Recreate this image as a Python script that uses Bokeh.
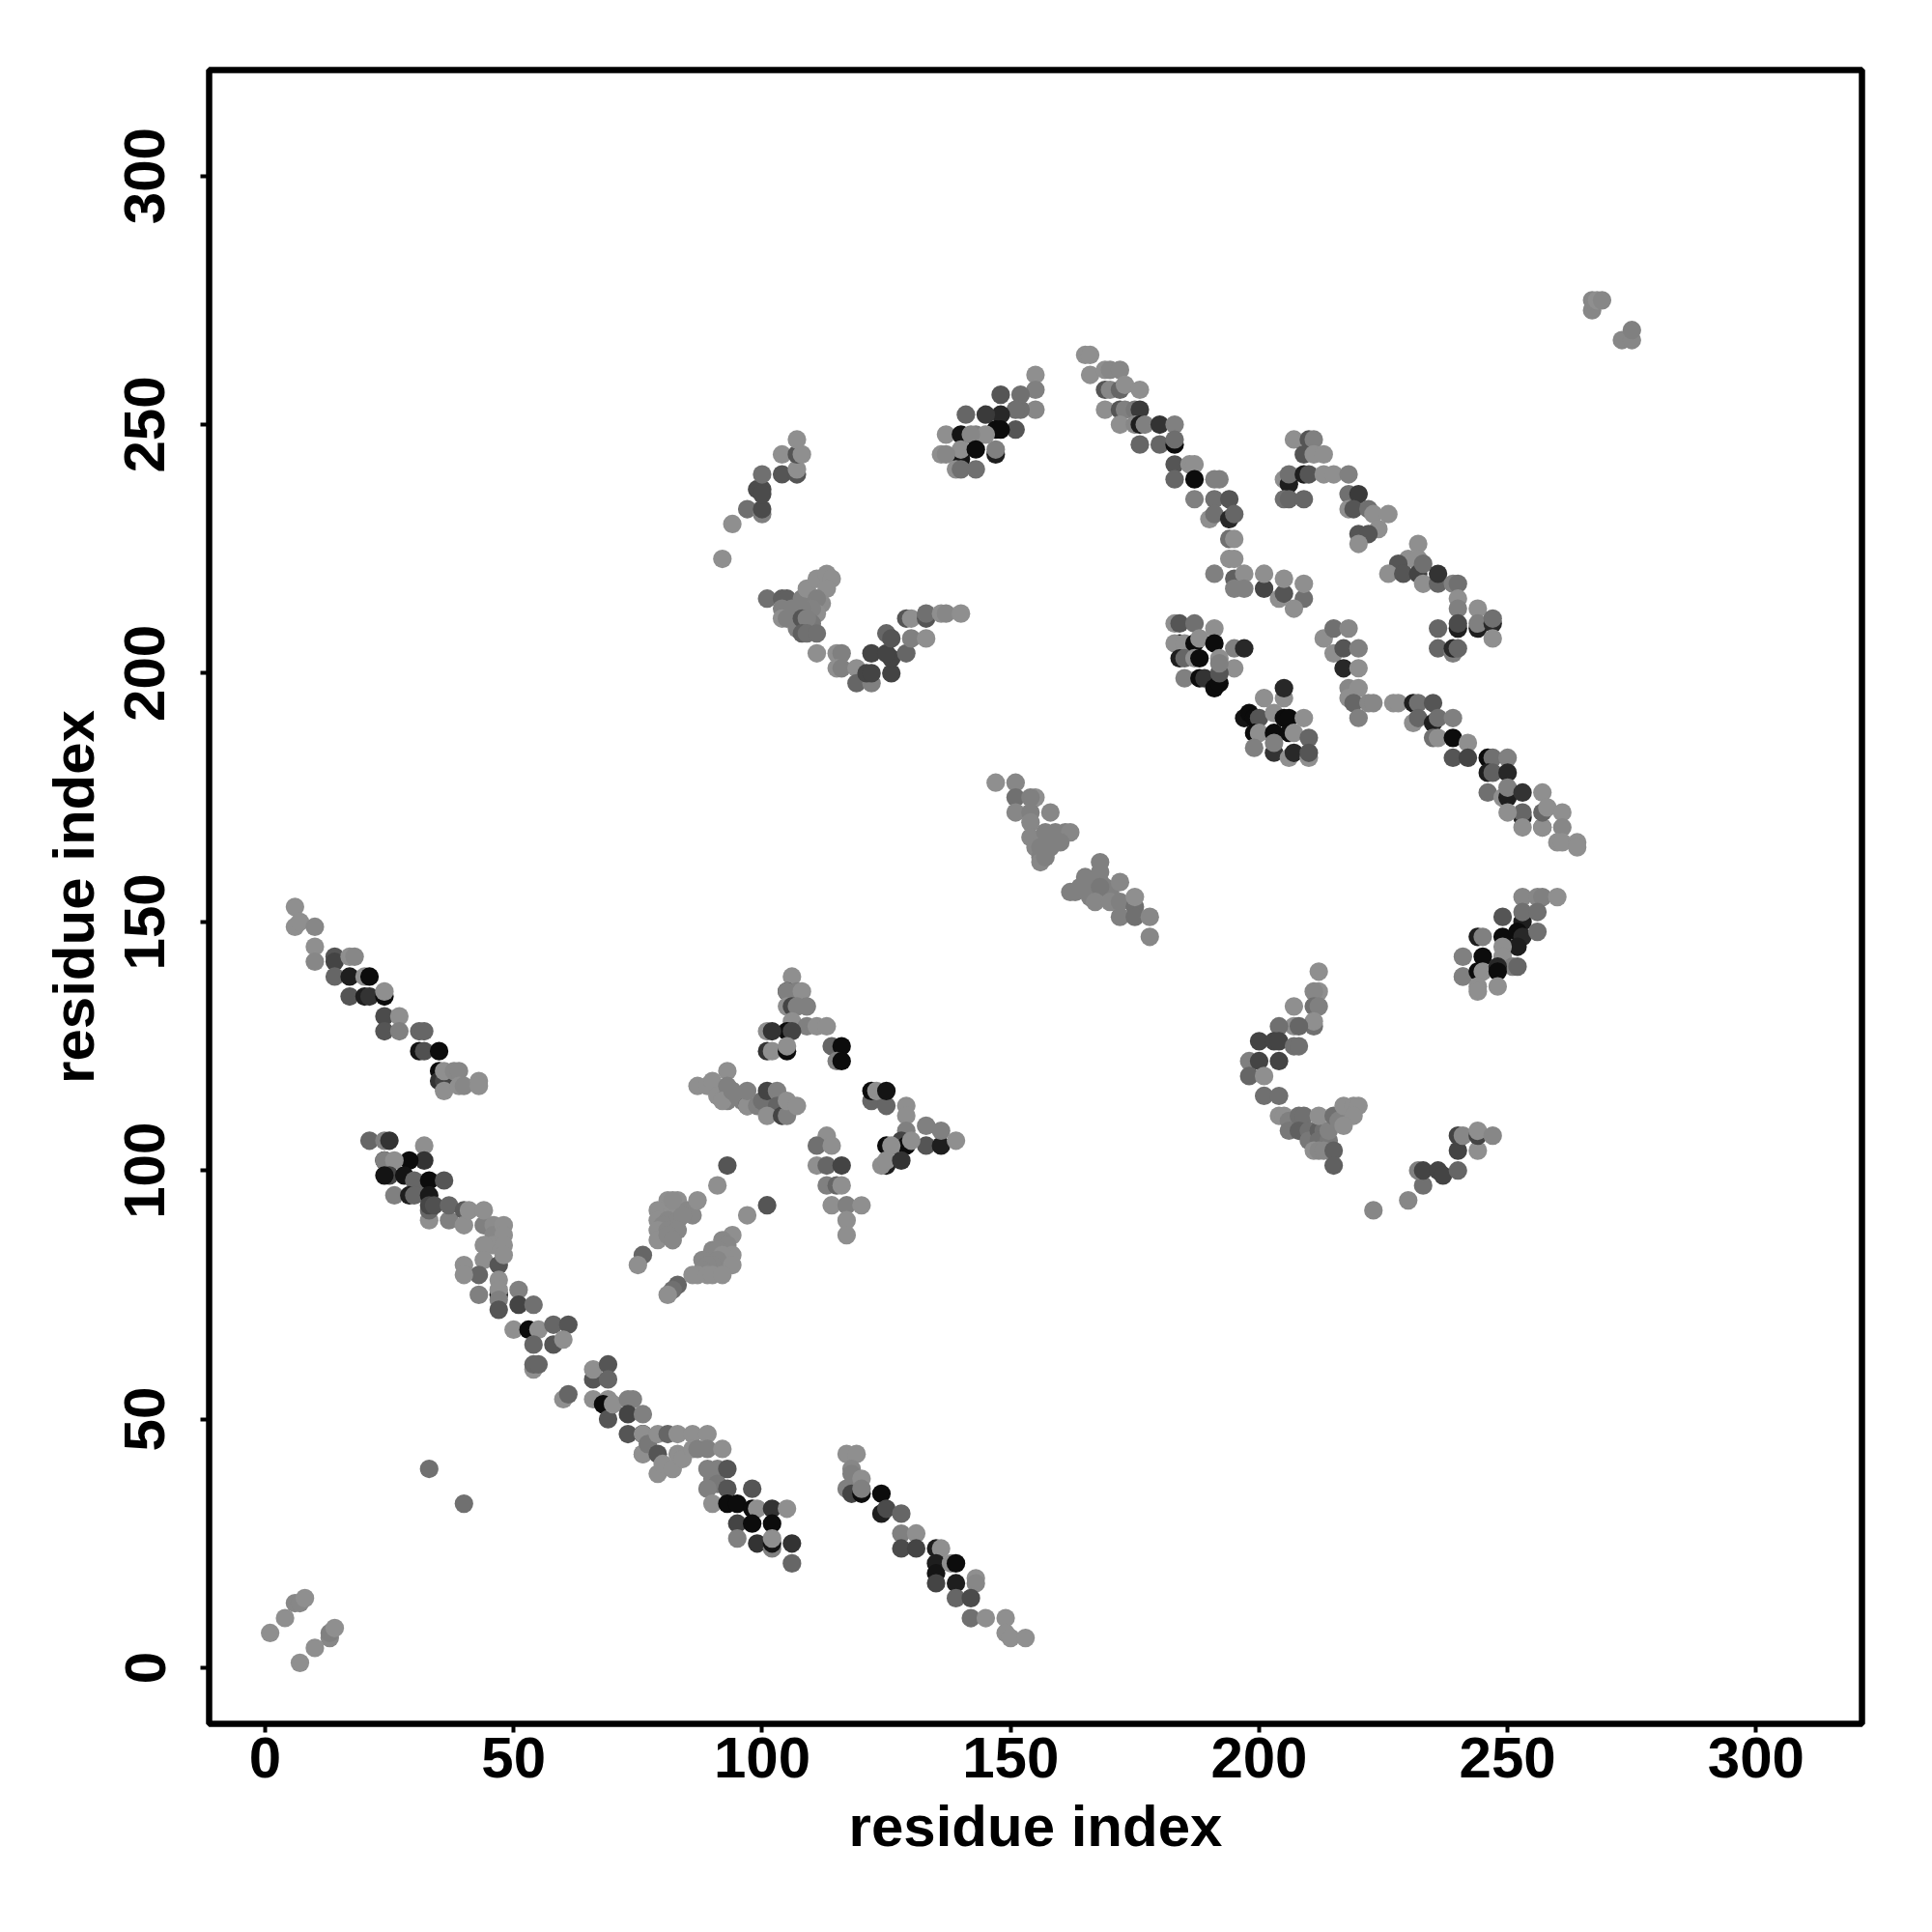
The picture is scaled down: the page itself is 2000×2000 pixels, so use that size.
from bokeh.plotting import figure
from bokeh.models import ColumnDataSource, FixedTicker, LinearColorMapper
from bokeh.transform import transform
from bokeh.embed import file_html
from bokeh.resources import INLINE

tick_values = [0, 50, 100, 150, 200, 250, 300]
axis_title = "residue index"

# each contact: residue index, residue index, grey score
contacts_corner = [(1,7,143),(4,10,143),(6,13,135),(7,13,135),(8,14,143),(7,1,143),(10,4,143),(13,6,135),(13,7,128),(14,8,143),(33,40,112),(40,33,112)]
contacts_helix_a = [(6,153,143),(6,149,143),(7,150,143),(10,149,135),(10,145,143),(10,142,135),(14,143,85),(14,142,68),(14,139,102),(17,139,30),(17,143,143),(18,143,135),(17,135,85),(20,139,143),(21,139,12),(20,135,30),(21,135,51),(24,135,12),(24,136,143),(24,131,75),(24,128,85),(27,131,143),(27,128,128),(31,128,102),(32,128,102),(31,124,20),(32,124,80),(35,124,12),(35,120,12),(35,118,51),(36,118,68),(36,116,143),(36,120,143),(38,120,135),(39,120,135),(39,117,143),(40,117,135),(43,118,143),(43,117,143)]
contacts_helix_b = [(21,106,102),(24,106,128),(25,106,51),(32,105,143),(32,102,51),(29,102,12),(24,102,12),(24,102,128),(26,102,143),(25,99,68),(24,99,20),(28,99,20),(31,97,102),(30,98,102),(33,98,12),(36,98,85),(26,95,128),(29,95,30),(30,95,102),(33,90,143),(33,92,102),(33,95,25),(33,93,70),(34,93,80),(37,90,128),(37,93,102),(40,92,90),(40,89,143),(41,92,143),(44,89,128),(44,92,143),(46,89,140),(46,87,135),(46,85,143),(48,89,143),(48,87,143),(44,85,143),(48,85,143),(44,82,143),(43,79,102),(47,81,85),(40,81,143),(40,79,143),(48,83,143),(47,78,143),(43,75,128),(47,75,12),(47,76,143),(47,74,128),(51,76,128),(47,72,85),(51,73,68),(54,73,112),(50,68,143),(53,68,12),(55,68,143),(58,69,102),(61,69,85),(54,65,102),(58,65,85),(60,66,143)]
contacts_helix_c = [(54,60,143),(54,61,102),(55,61,102),(60,54,143),(61,55,102),(66,54,143),(66,58,85),(66,60,143),(69,61,85),(69,58,102),(69,54,143),(68,53,12),(69,50,85),(70,53,143),(73,54,128),(74,54,128),(73,51,68),(76,51,128),(73,47,85),(76,47,12),(76,47,143),(76,43,112),(76,43,143),(77,45,120),(79,47,143),(81,47,102),(83,47,143),(79,43,85),(83,43,143),(79,39,143),(80,41,143),(82,40,143),(84,42,143),(86,47,143),(89,47,143),(86,44,143),(87,44,128),(89,44,128),(92,44,143),(89,40,128),(91,40,128),(90,38,128),(91,37,120),(89,36,128),(93,40,85),(93,36,85),(90,33,143),(93,33,12),(95,33,12),(98,36,85),(98,32,12),(99,32,143),(102,32,51),(105,32,143),(95,29,68),(98,29,12),(102,29,12),(95,26,128),(99,25,51),(102,24,128),(102,25,20),(102,26,143),(106,25,51),(106,21,102)]
contacts_helix_d = [(117,43,143),(119,43,143),(117,36,128),(118,40,135),(118,39,128),(118,35,68),(120,38,143),(120,35,12),(120,36,128),(124,35,12),(124,31,30),(125,32,75),(128,31,102),(128,27,128),(131,27,143),(128,24,75),(131,24,68),(135,24,30),(136,24,143),(135,21,30),(135,19,20),(138,21,143),(139,21,12),(135,17,68),(139,17,30),(143,18,143),(143,17,135),(139,14,102),(142,14,75),(142,10,112),(145,10,143),(149,10,143),(149,7,143),(150,6,143),(153,6,143)]
contacts_sheet_a = [(76,83,102),(75,81,143),(81,94,143),(83,94,143),(79,92,143),(82,92,143),(85,92,135),(86,91,135),(79,90,143),(81,90,135),(83,90,135),(84,91,135),(80,89,135),(79,88,143),(81,88,135),(83,88,135),(79,86,143),(81,87,135),(82,86,135),(82,94,140),(87,94,143),(91,97,143),(93,101,85)]
contacts_sheet_b = [(83,77,102),(82,76,112),(81,75,143),(94,87,143),(92,86,135),(93,85,135),(90,84,135),(91,84,135),(94,83,143),(92,83,143),(88,82,135),(91,82,135),(90,81,135),(89,81,135),(94,81,143),(88,80,135),(87,79,143),(86,79,143),(89,79,143),(90,79,143),(92,79,143),(97,91,143),(101,93,85)]
contacts_star = [(106,139,143),(105,136,30),(105,136,128),(107,136,128),(108,136,143),(105,133,143),(106,133,68),(107,133,128),(109,133,128),(106,130,143),(109,129,128),(111,129,143),(113,129,143),(105,128,12),(106,128,68),(101,128,143),(102,128,51),(101,124,51),(102,124,143),(105,124,12),(105,125,143),(114,125,102),(116,125,12),(115,122,128),(116,122,12)]
contacts_star_left = [(87,117,143),(89,117,143),(90,118,143),(91,115,143),(93,120,143),(93,117,128),(93,115,128),(93,114,128),(92,114,143),(95,115,128),(94,116,128),(96,114,128),(97,113,68),(97,113,143),(97,116,128),(99,113,128),(100,114,112),(101,116,68),(103,116,128),(103,113,100),(101,111,143),(104,111,68),(105,111,128),(105,114,143),(107,113,143)]
contacts_star_right = [(122,114,102),(122,116,12),(123,116,143),(125,113,102),(125,116,20),(129,113,143),(129,111,143),(129,108,128),(133,105,85),(133,109,128),(136,105,30),(136,108,128),(128,106,68),(129,105,12),(130,106,143),(139,106,143),(125,105,12),(126,105,143),(125,101,30),(124,101,143),(125,102,143),(128,102,51)]
contacts_star_low = [(113,107,143),(111,105,112),(114,105,143),(111,101,143),(113,101,102),(113,97,128),(115,97,102),(116,97,143),(116,101,68),(114,93,143),(117,93,128),(120,93,143),(117,90,143),(117,87,143)]
contacts_arm_a = [(92,223,143),(94,230,143),(97,233,112),(100,232,128),(100,233,75),(99,237,75),(100,237,75),(100,236,75),(100,240,112),(104,240,85),(107,240,85),(107,241,143),(104,244,143),(107,244,85),(108,244,143),(107,247,143)]
contacts_arm_b = [(101,215,112),(104,215,96),(105,215,96),(104,213,128),(106,213,128),(104,211,143),(105,211,128),(107,209,128),(108,215,128),(109,217,143),(111,219,143),(113,220,143),(114,219,143),(113,217,143),(112,214,140),(111,215,128),(111,212,143),(110,213,130),(110,210,120),(108,213,128),(108,211,85),(109,211,128),(108,208,96),(109,208,112),(111,208,112),(111,204,143),(115,204,143),(116,204,128),(115,201,143),(116,201,128),(119,201,143),(119,198,102),(122,198,128),(122,204,68),(121,200,68),(122,200,68),(126,200,68),(126,203,68),(125,204,68),(125,208,102),(126,207,85),(129,204,102),(129,211,85),(130,207,128),(133,207,143),(130,211,143),(133,211,85),(133,212,112),(136,212,143),(137,212,135),(140,212,143)]
contacts_arm_c = [(155,260,143),(155,257,128),(152,256,112),(148,256,85),(155,253,135),(152,253,112),(151,253,112),(148,252,40),(145,252,58),(141,252,102),(147,244,30),(147,245,128),(151,249,85),(147,249,12),(148,249,12),(143,248,128),(145,248,143),(137,248,143),(140,248,20),(142,248,135),(140,243,20),(140,245,143),(143,245,12),(136,244,143),(137,244,135),(139,241,143),(140,241,112),(143,241,112)]
contacts_helix_e = [(165,264,143),(166,264,143),(166,260,143),(169,261,143),(170,261,135),(172,261,135),(169,257,85),(170,257,135),(172,257,102),(173,258,143),(176,257,143),(169,253,143),(172,253,85),(173,253,128),(175,253,120),(176,253,58),(172,250,143),(175,250,135),(176,250,30),(177,250,128),(180,250,51),(183,250,128),(176,246,102),(180,246,102),(183,246,12),(183,247,110),(183,242,85),(186,242,143),(187,242,143),(183,239,102),(187,239,12),(191,239,128),(192,239,128),(187,235,128),(190,231,143),(191,235,112),(191,232,112),(194,235,85),(194,231,40),(195,232,102),(194,227,112),(195,227,143)]
contacts_helix_f = [(191,220,128),(194,223,143),(195,223,143),(195,219,96),(197,220,143),(195,217,128),(197,217,128),(201,217,68),(201,220,143),(204,215,143),(205,216,85),(205,219,143),(209,215,112),(209,218,143),(207,213,143)]
contacts_arm_d = [(207,247,143),(210,247,85),(211,247,128),(209,244,85),(211,244,143),(213,244,143),(205,239,143),(206,238,30),(206,240,112),(209,240,30),(210,240,85),(213,240,143),(215,240,143),(218,240,128),(205,235,112),(206,235,102),(209,235,102),(218,236,112),(220,236,58),(218,233,143),(219,233,85),(222,233,112),(223,232,143),(226,232,143),(224,229,143),(220,228,85),(222,228,85),(220,226,143)]
contacts_helix_g = [(232,226,143),(230,223,143),(232,223,143),(228,222,85),(226,220,143),(229,220,85),(232,220,68),(233,222,112),(233,218,143),(236,218,102),(236,220,51),(239,218,128),(240,218,112),(240,215,143),(240,213,128),(240,209,30),(240,210,75),(244,213,143),(244,209,30),(244,210,128),(247,210,40),(247,211,112),(247,207,143),(236,209,102),(236,205,102),(239,204,128),(239,205,40),(240,205,102)]
contacts_block_a = [(183,210,143),(184,210,85),(187,210,112),(191,209,143),(184,206,30),(183,206,143),(185,206,143),(187,206,12),(188,207,143),(191,206,12),(195,205,128),(197,205,40),(184,203,30),(185,203,102),(187,203,143),(188,203,12),(192,203,143),(195,201,143),(185,199,128),(188,199,12),(189,199,51),(191,197,12),(192,198,12),(192,200,85),(192,202,128)]
contacts_block_b = [(205,195,143),(205,197,40),(201,195,143),(197,191,20),(198,192,12),(199,191,12),(200,191,85),(203,192,143),(205,191,12),(206,191,12),(209,191,143),(199,188,12),(200,188,143),(203,188,12),(206,188,12),(207,188,143),(210,187,102),(199,185,128),(203,184,51),(203,186,128),(206,183,143),(207,184,40),(210,183,143),(210,184,85)]
contacts_helix_h = [(213,207,143),(215,209,112),(218,209,135),(215,204,143),(217,205,85),(220,205,128),(217,201,40),(220,201,143),(218,197,135),(220,197,143),(218,195,143),(219,194,102),(222,194,135),(223,194,135),(220,191,128)]
contacts_helix_i = [(227,194,143),(228,194,143),(231,194,30),(232,194,112),(235,194,85),(231,190,143),(232,191,102),(235,190,30),(236,191,112),(239,191,128),(235,187,112),(236,187,143),(239,187,12),(242,186,143),(239,183,85),(242,183,68),(246,183,12),(247,183,112),(250,183,128),(246,180,30),(247,180,96),(250,180,40),(246,176,112),(249,175,143),(250,175,30),(250,177,128),(253,171,40),(253,172,102),(253,176,51),(250,172,143),(253,169,143),(257,169,85),(257,169,143),(257,172,102),(257,176,143),(258,173,143),(261,172,143),(261,169,135),(260,166,143),(261,166,143),(264,166,143),(264,165,143)]
contacts_band_a = [(147,178,143),(151,178,135),(151,175,112),(151,172,135),(155,175,143),(154,175,128),(154,172,128),(158,172,135),(154,170,135),(154,167,135),(157,168,128),(159,168,128),(161,168,128),(162,168,135),(160,166,128),(158,165,128),(155,165,135),(156,165,128),(156,163,128),(156,162,135),(157,163,128)]
contacts_band_b = [(168,162,128),(168,160,128),(168,158,128),(165,159,128),(164,157,128),(166,157,128),(162,156,128),(163,156,128),(166,155,128),(169,157,128),(170,156,128),(168,157,120),(167,154,135),(170,154,135),(172,154,128),(172,158,135),(175,153,112),(175,155,143),(172,151,128),(175,151,112),(178,151,135),(178,147,135)]
contacts_lobe_a = [(253,155,135),(256,155,135),(257,155,128),(260,155,143),(253,150,30),(253,152,112),(256,152,112),(249,151,85),(244,147,30),(245,147,128),(249,147,12),(252,148,12),(253,147,40),(256,148,112),(252,145,30),(249,145,143),(245,143,12),(241,143,128),(249,143,143),(251,141,128),(252,141,102),(241,139,143),(241,139,128),(244,140,12),(245,140,143),(248,141,40),(248,140,12),(244,137,143),(244,136,143),(248,137,143)]
contacts_lobe_b = [(212,140,143),(212,136,143),(211,136,135),(211,133,112),(212,133,128),(207,133,143),(211,129,112),(211,130,143),(207,129,143),(208,129,102),(204,129,112),(200,126,68),(203,126,68),(204,126,68),(207,125,112),(208,125,112),(198,122,128),(200,122,68),(204,122,68),(198,119,102),(201,119,143),(201,115,112),(204,115,112)]
contacts_lobe_c = [(204,111,143),(205,111,143),(206,110,128),(206,108,120),(208,111,112),(209,111,112),(208,108,96),(210,108,112),(210,106,120),(212,108,96),(213,108,112),(212,106,112),(214,106,120),(214,108,130),(212,111,143),(215,111,112),(216,110,130),(217,113,143),(219,113,143),(220,113,143),(219,111,143),(217,109,143),(211,104,143),(212,104,135),(213,104,135),(215,104,96),(215,101,96)]
contacts_tail = [(223,92,135),(230,94,135),(233,97,112),(232,100,128),(233,100,68),(236,100,68),(237,99,68),(240,100,102),(240,104,68),(244,104,143),(240,107,68),(241,107,135),(244,107,68),(244,108,143),(247,107,135)]
contacts_far = [(267,273,135),(267,275,135),(268,275,143),(269,275,135),(273,267,135),(275,267,135),(275,269,128)]

all_groups = [contacts_corner, contacts_helix_a, contacts_helix_b, contacts_helix_c, contacts_helix_d,
              contacts_sheet_a, contacts_sheet_b, contacts_star, contacts_star_left, contacts_star_right,
              contacts_star_low, contacts_arm_a, contacts_arm_b, contacts_arm_c, contacts_helix_e,
              contacts_helix_f, contacts_arm_d, contacts_helix_g, contacts_block_a, contacts_block_b,
              contacts_helix_h, contacts_helix_i, contacts_band_a, contacts_band_b, contacts_lobe_a,
              contacts_lobe_b, contacts_lobe_c, contacts_tail, contacts_far]

rows = [row for group in all_groups for row in group]
source = ColumnDataSource(dict(
    a=[r[0] for r in rows],
    b=[r[1] for r in rows],
    score=[r[2] for r in rows],
))

FONT = "Liberation Sans"
p = figure(width=1984, height=1984, output_backend="svg", toolbar_location=None,
           x_range=(-11.27, 321.3), y_range=(-11.27, 321.3),
           min_border_left=216, min_border_right=57, min_border_top=72, min_border_bottom=200)
p.background_fill_color = "white"
p.border_fill_color = "white"
p.grid.visible = False
p.outline_line_color = "black"
p.outline_line_width = 6.5

greys = ["#%02x%02x%02x" % (i, i, i) for i in range(256)]
mapper = LinearColorMapper(palette=greys, low=0, high=255)
p.circle("a", "b", source=source, radius=1.87,
         fill_color=transform("score", mapper), line_color=None)

for ax in (p.xaxis[0], p.yaxis[0]):
    ax.ticker = FixedTicker(ticks=tick_values)
    ax.axis_label = axis_title
    ax.axis_line_color = None
    ax.major_tick_line_color = "black"
    ax.major_tick_line_width = 4
    ax.major_tick_in = 0
    ax.major_tick_out = 9
    ax.minor_tick_line_color = None
    ax.major_label_text_font = FONT
    ax.major_label_text_font_style = "bold"
    ax.major_label_text_font_size = "60px"
    ax.major_label_text_color = "black"
    ax.axis_label_text_font = FONT
    ax.axis_label_text_font_style = "bold"
    ax.axis_label_text_font_size = "60px"
    ax.axis_label_text_color = "black"
p.xaxis[0].major_label_standoff = 5
p.xaxis[0].axis_label_standoff = 14
p.yaxis[0].major_label_standoff = 37
p.yaxis[0].axis_label_standoff = 17
p.yaxis[0].major_label_orientation = "vertical"

open("out.html", "w").write(file_html(p, INLINE))
